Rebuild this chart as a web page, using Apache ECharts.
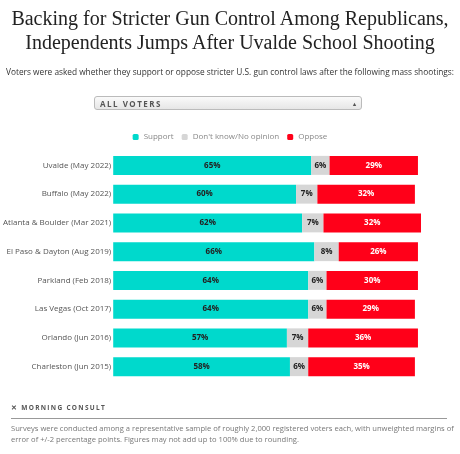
<!DOCTYPE html>
<html><head><meta charset="utf-8">
<script src="https://cdn.jsdelivr.net/npm/echarts@6/dist/echarts.min.js"></script>
<style>
body{margin:0;background:#fff;font-family:"Open Sans",sans-serif;}
#wrap{position:relative;width:460px;height:454px;}
#title{position:absolute;top:6px;left:0;width:460px;text-align:center;font-family:"Liberation Serif",serif;font-size:20px;line-height:24px;color:#222;}
#sub{position:absolute;top:66px;left:0;width:460px;text-align:center;font-size:8.3px;color:#333;}
#sel{position:absolute;top:96px;left:94px;width:268px;height:14px;border:1px solid #bbb;border-radius:3px;background:linear-gradient(#fafafa,#e6e6e6);font-size:8px;letter-spacing:1.5px;font-weight:bold;color:#555;line-height:14px;padding-left:5px;box-sizing:border-box;}
#sel span{position:absolute;right:5px;top:0;font-size:6px;letter-spacing:0;}
#chart{position:absolute;top:0;left:0;width:460px;height:454px;}
#logo{position:absolute;top:403px;left:11px;font-size:6.5px;letter-spacing:1.3px;font-weight:bold;color:#555;}
#rule{position:absolute;top:418px;left:11px;width:436px;border-top:1px solid #999;}
#foot{position:absolute;top:423px;left:11px;width:445px;font-size:7.6px;line-height:11px;color:#777;}
</style></head>
<body><div id="wrap">
<div id="chart"></div>
<div id="title">Backing for Stricter Gun Control Among Republicans,<br>Independents Jumps After Uvalde School Shooting</div>
<div id="sub">Voters were asked whether they support or oppose stricter U.S. gun control laws after the following mass shootings:</div>
<div id="sel">ALL VOTERS<span>▴<br></span></div>
<div id="logo">✕ MORNING CONSULT</div>
<div id="rule"></div>
<div id="foot">Surveys were conducted among a representative sample of roughly 2,000 registered voters each, with unweighted margins of error of +/-2 percentage points. Figures may not add up to 100% due to rounding.</div>
</div>
<script>
var categories = ['Uvalde (May 2022)', 'Buffalo (May 2022)', 'Atlanta & Boulder (Mar 2021)', 'El Paso & Dayton (Aug 2019)', 'Parkland (Feb 2018)', 'Las Vegas (Oct 2017)', 'Orlando (Jun 2016)', 'Charleston (Jun 2015)'];
var support = [65, 60, 62, 66, 64, 64, 57, 58];
var dontKnow = [6, 7, 7, 8, 6, 6, 7, 6];
var oppose = [29, 32, 32, 26, 30, 29, 36, 35];

var chart = echarts.init(document.getElementById('chart'));
function lbl(color) {
  return { show: true, position: 'inside', formatter: '{c}%', fontSize: 8, fontWeight: 'bold', color: color, fontFamily: 'Open Sans' };
}
chart.setOption({
  animation: false,
  legend: {
    top: 128, left: 'center', itemWidth: 6, itemHeight: 6, itemGap: 8,
    textStyle: { fontSize: 8, color: '#888', fontFamily: 'Open Sans' },
    data: ['Support', 'Don\'t know/No opinion', 'Oppose']
  },
  grid: { left: 110, right: 39, top: 151, bottom: 73 },
  xAxis: { type: 'value', min: 0, max: 101, show: false },
  yAxis: {
    type: 'category', data: categories, inverse: true,
    axisLine: { show: false }, axisTick: { show: false },
    axisLabel: { fontSize: 8, color: '#555', margin: 2, fontFamily: 'Open Sans' }
  },
  series: [
    { name: 'Support', type: 'bar', stack: 'a', data: support, barWidth: 19, itemStyle: { color: '#00d9cc' }, label: lbl('#222') },
    { name: 'Don\'t know/No opinion', type: 'bar', stack: 'a', data: dontKnow, itemStyle: { color: '#d6d6d6' }, label: lbl('#222') },
    { name: 'Oppose', type: 'bar', stack: 'a', data: oppose, itemStyle: { color: '#ff0019' }, label: lbl('#fff') }
  ]
});
</script>
</body></html>
